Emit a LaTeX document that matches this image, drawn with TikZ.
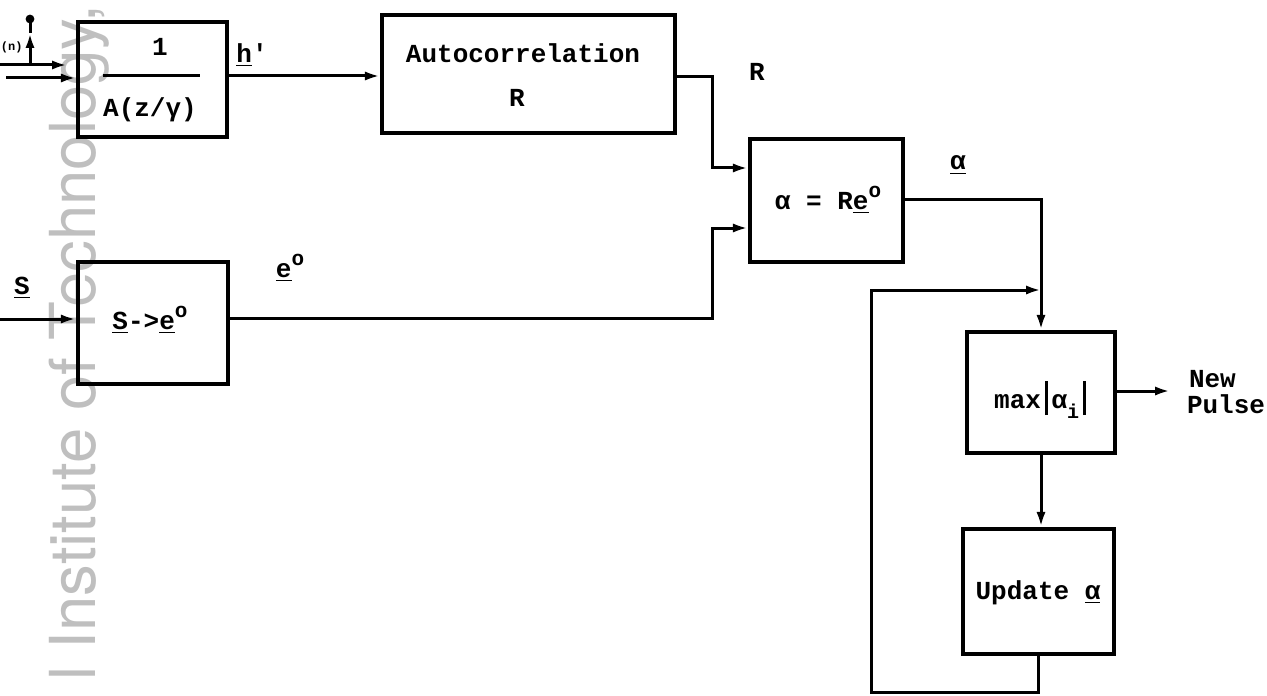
\documentclass[tikz,border=0pt]{standalone}
\usepackage{fontspec}
\setmainfont{Liberation Mono}
\newfontfamily\wmfont{TeX Gyre Heros}
\usetikzlibrary{arrows.meta}
\newcommand{\supo}{\raisebox{0.9ex}{\fontsize{10.5}{10.5}\selectfont o}}
\newcommand{\subi}{\raisebox{-0.8ex}{\fontsize{10}{10}\selectfont i}}
\newcommand{\tbar}{\rule[-3.5pt]{1.3pt}{17pt}}
\begin{document}
\begin{tikzpicture}[x=0.5pt,y=-0.5pt,
  box/.style={draw,line width=2.1pt,inner sep=0pt},
  conn/.style={line width=1.5pt},
  arr/.style={conn,-{Latex[length=7.5pt,width=4.6pt]}},
  lbl/.style={font=\fontsize{13}{15}\selectfont\bfseries,inner sep=0pt},
]
\useasboundingbox (0,0) rectangle (1267,695);
% watermark
\node[rotate=90,anchor=base east,inner sep=0pt,text=black!25,
      font=\wmfont\fontsize{31.7}{36}\selectfont] (wm) at (95,5) {l Institute of Technology,};

% boxes
\node[box,minimum width=74.5pt,minimum height=57.5pt] (b1) at (152.5,79.5) {};
\node[box,minimum width=146.5pt,minimum height=59pt] (auto) at (528.5,74) {};
\node[box,minimum width=75pt,minimum height=61pt] (se) at (153,323) {};
\node[box,minimum width=76.5pt,minimum height=61.5pt] (al) at (826.5,200.5) {};
\node[box,minimum width=74pt,minimum height=60.5pt] (mx) at (1041,392.5) {};
\node[box,minimum width=75.5pt,minimum height=62.5pt] (up) at (1038.5,591.5) {};

% box texts
\node[lbl] (one) at (160,47) {1};
\coordinate (fl) at (103,76);
\coordinate (fr) at (200,76);
\draw[conn] (fl) -- (fr);
\node[lbl] (den) at (150,110) {A(z/γ)};
\node[lbl] (ac1) at (523,53) {Autocorrelation};
\node[lbl] (ac2) at (517,98) {R};
\node[lbl] (set) at (150,320) {\underline{S}->\underline{e}\supo};
\node[lbl] (alt) at (828,200) {α = R\underline{e}\supo};
\node[lbl] (mxt) at (1040,400) {max\hspace{2pt}\tbar\hspace{2pt}α\subi\hspace{2pt}\tbar};
\node[lbl] (upt) at (1038,593) {Update \underline{α}};

% input side (top left)
\node[lbl,font=\fontsize{6}{7}\selectfont\bfseries,anchor=west] (nlab) at (0.5,47) {(n)};
\coordinate (u0) at (0,65);
\coordinate (u1) at (67,65);
\draw[arr] (u0) -- (u1);
\coordinate (v0) at (30,65);
\coordinate (v1) at (30,33);
\coordinate (v2) at (30,19);
\draw[arr] (v0) -- (v1);
\draw[conn] (v1) -- (v2);
\fill (v2) circle (2.2pt);
\coordinate (l0) at (6,78);
\draw[arr] (l0) -- (l0 -| b1.west);

% b1 -> autocorrelation
\coordinate (hy) at (0,76);
\draw[arr] (b1.east |- hy) -- (auto.west |- hy);
\node[lbl] (hlab) at (252,55) {\underline{h}\textquotesingle};

% autocorrelation -> alpha box
\coordinate (ry) at (0,77);
\coordinate (rj) at (712,168);
\draw[arr] (auto.east |- ry) -| (rj) -- (rj -| al.west);
\node[lbl] (rlab) at (757,72) {R};

% S input
\coordinate (s0) at (0,319);
\draw[arr] (s0) -- (s0 -| se.west);
\node[lbl] (slab) at (22,288) {\underline{S}};

% se -> alpha box
\coordinate (ey) at (0,318);
\coordinate (ej) at (712,228);
\draw[arr] (se.east |- ey) -| (ej) -- (ej -| al.west);
\node[lbl] (elab) at (290,268) {\underline{e}\supo};

% alpha -> max
\coordinate (ay) at (0,200);
\draw[arr] (al.east |- ay) -| (mx.north);
\node[lbl] (alab) at (958,165) {\underline{α}};

% max -> update
\draw[arr] (mx.south) -- (mx.south |- up.north);

% max -> new pulse
\coordinate (py) at (0,391);
\coordinate (pe) at (1170,391);
\draw[arr] (mx.east |- py) -- (pe);
\node[lbl,align=left] (plab) at (1226,392) {\hspace{1pt}New\\[-2pt]Pulse};

% feedback loop
\coordinate (fb) at (871,692);
\coordinate (fj) at (1041,290);
\draw[arr] (up.south) |- (fb) |- (fj);
\end{tikzpicture}
\end{document}
